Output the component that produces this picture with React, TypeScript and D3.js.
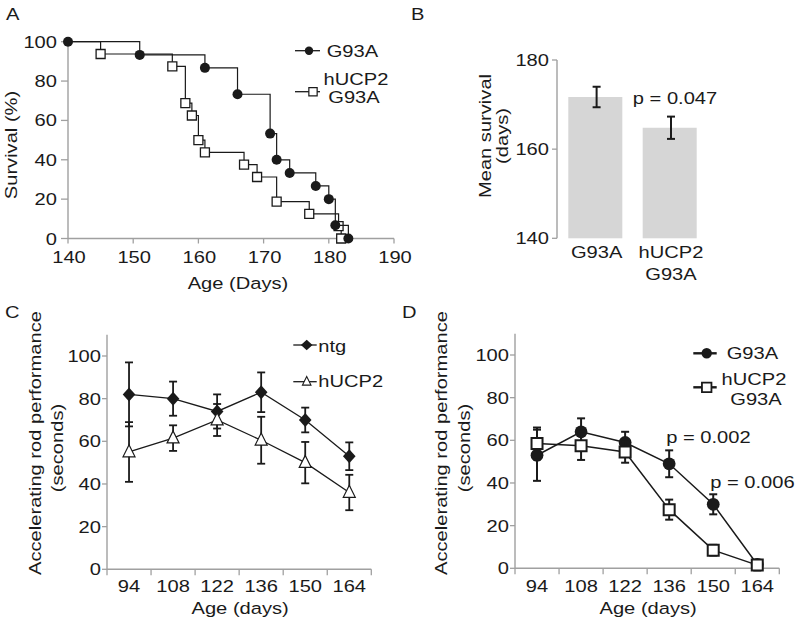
import React from 'react';
import * as d3 from 'd3';

// ---------- Data ----------
// Panel A: Kaplan-Meier survival (event times in days, survival %)
const kmG93ATimes = [151, 161, 166, 171, 172, 174, 178, 180, 181, 183];
const kmG93ASurv = [93.3, 86.7, 73.3, 53.3, 40, 33.3, 26.7, 20, 6.7, 0];
const kmHucpTimes = [145, 156, 158, 159, 160, 161, 167, 169, 172, 177, 181.5, 181.9];
const kmHucpSurv = [93.75, 87.5, 68.75, 62.5, 50, 43.75, 37.5, 31.25, 18.75, 12.5, 6.25, 0];
const kmStart = [140, 100];
const kmXTicks = [140, 150, 160, 170, 180, 190];
const kmYTicks = [0, 20, 40, 60, 80, 100];

// Panel B: mean survival
const survCatLines = [['G93A'], ['hUCP2', 'G93A']];
const survMean = [171.7, 164.8];
const survErr = [2.3, 2.5];
const survTicks = [140, 160, 180];

// Panel C / D: accelerating rod
const ageCats = ['94', '108', '122', '136', '150', '164'];
const rodTicks = [0, 20, 40, 60, 80, 100];
const ntgMean = [82, 80, 74, 83, 70, 53];
const ntgErr = [15, 8, 8, 9.3, 5.8, 6.5];
const hucpMean = [55, 61.5, 70, 60.5, 50, 36];
const hucpErr = [14, 6, 7.5, 11, 9.7, 8.3];
const g93aRod = [53, 64, 59, 49, 30, 1.8];
const g93aRodErr = [12, 6.3, 5, 6.3, 4.7, 1.5];
const hucpG93aRod = [58.5, 57.5, 54.5, 27.5, 8.5, 1.5];
const hucpG93aRodErr = [7.5, 6.7, 5, 4.7, 2.5, 2.5];
const pLabels = [{ cat: '136', text: 'p = 0.002' }, { cat: '150', text: 'p = 0.006' }];

// ---------- Style ----------
const FONT = '"Liberation Sans", Arial, Helvetica, sans-serif';
const SX = 1.22;
const FS = 16.5;
const AXIS = '#a0a0a0';
const INK = '#1a1a1a';

function Txt({ x, y, anchor = 'start', rot = 0, size = FS, children }: any) {
  return (
    <text
      transform={`translate(${x},${y})${rot ? ` rotate(${rot})` : ''} scale(${SX},1)`}
      textAnchor={anchor}
      fontSize={size}
      fontFamily={FONT}
      fill={INK}
    >
      {children}
    </text>
  );
}

const sq = (cx: number, cy: number, s: number) => `M${cx - s / 2},${cy - s / 2}h${s}v${s}h${-s}Z`;
const diamond = (cx: number, cy: number, w: number, h: number) =>
  `M${cx},${cy - h}L${cx + w},${cy}L${cx},${cy + h}L${cx - w},${cy}Z`;
const tri = (cx: number, cy: number, w: number, h: number) =>
  `M${cx},${cy - h * 0.6}L${cx + w / 2},${cy + h * 0.4}L${cx - w / 2},${cy + h * 0.4}Z`;

function PanelA() {
  const x = d3.scaleLinear().domain([140, 190]).range([68, 394]);
  const y = d3.scaleLinear().domain([0, 100]).range([238.5, 41.7]);
  const step = d3
    .line<number[]>()
    .x((d) => x(d[0]))
    .y((d) => y(d[1]))
    .curve(d3.curveStepAfter);
  const g = [kmStart, ...kmG93ATimes.map((t, i) => [t, kmG93ASurv[i]])];
  const h = [kmStart, ...kmHucpTimes.map((t, i) => [t, kmHucpSurv[i]])];
  return (
    <g>
      <Txt x={6} y={20}>A</Txt>
      <line x1={x(140)} x2={x(140)} y1={y(0)} y2={y(100)} stroke={AXIS} strokeWidth={1.4} />
      <line x1={x(140)} x2={x(190)} y1={y(0)} y2={y(0)} stroke={AXIS} strokeWidth={1.4} />
      {kmYTicks.map((t) => (
        <g key={'y' + t}>
          <line x1={x(140) - 7} x2={x(140)} y1={y(t)} y2={y(t)} stroke={AXIS} strokeWidth={1.3} />
          <Txt x={57} y={y(t) + 6} anchor="end">{t}</Txt>
        </g>
      ))}
      {kmXTicks.map((t) => (
        <g key={'x' + t}>
          <line x1={x(t)} x2={x(t)} y1={y(0)} y2={y(0) + 5} stroke={AXIS} strokeWidth={1.3} />
          <Txt x={x(t) + 1} y={263.3} anchor="middle">{t}</Txt>
        </g>
      ))}
      <Txt x={17} y={145} rot={-90} anchor="middle">Survival (%)</Txt>
      <Txt x={238} y={289} anchor="middle">Age (Days)</Txt>
      <path d={step(h) || ''} fill="none" stroke={INK} strokeWidth={1.2} />
      {h.slice(1).map((d, i) => (
        <path key={'hs' + i} d={sq(x(d[0]), y(d[1]), 9)} fill="#fff" stroke={INK} strokeWidth={1.3} />
      ))}
      <path d={step(g) || ''} fill="none" stroke={INK} strokeWidth={1.2} />
      {g.map((d, i) => (
        <circle key={'gc' + i} cx={x(d[0])} cy={y(d[1])} r={5} fill={INK} />
      ))}
      {/* legend */}
      <line x1={295} x2={320} y1={50.7} y2={50.7} stroke={INK} strokeWidth={1.3} />
      <circle cx={309} cy={50.7} r={4.2} fill={INK} />
      <Txt x={326.7} y={56.7}>G93A</Txt>
      <line x1={295} x2={320} y1={91.7} y2={91.7} stroke={INK} strokeWidth={1.3} />
      <path d={sq(313, 91.7, 8.3)} fill="#fff" stroke={INK} strokeWidth={1.2} />
      <Txt x={356} y={85} anchor="middle">hUCP2</Txt>
      <Txt x={354} y={103.3} anchor="middle">G93A</Txt>
    </g>
  );
}

function PanelB() {
  const y = d3.scaleLinear().domain([140, 180]).range([238.3, 60]);
  const x = d3
    .scaleBand<number>()
    .domain(survMean.map((_, i) => i))
    .range([557, 708])
    .paddingInner(0.274)
    .paddingOuter(0.152);
  const ax = 557;
  return (
    <g>
      <Txt x={411} y={20}>B</Txt>
      <line x1={ax} x2={ax} y1={y(140)} y2={y(180)} stroke={AXIS} strokeWidth={1.4} />
      {survTicks.map((t) => (
        <g key={t}>
          <line x1={ax - 5} x2={ax} y1={y(t)} y2={y(t)} stroke={AXIS} strokeWidth={1.3} />
          <Txt x={549} y={y(t) + 6} anchor="end">{t}</Txt>
        </g>
      ))}
      {survMean.map((m, i) => {
        const bx = x(i) as number;
        const cx = bx + x.bandwidth() / 2 + 1.3;
        return (
          <g key={i}>
            <rect x={bx} y={y(m)} width={x.bandwidth()} height={y(140) - y(m)} fill="#d6d6d6" />
            <line x1={cx} x2={cx} y1={y(m + survErr[i])} y2={y(m - survErr[i])} stroke={INK} strokeWidth={2} />
            <line x1={cx - 4} x2={cx + 4} y1={y(m + survErr[i])} y2={y(m + survErr[i])} stroke={INK} strokeWidth={2} />
            <line x1={cx - 4} x2={cx + 4} y1={y(m - survErr[i])} y2={y(m - survErr[i])} stroke={INK} strokeWidth={2} />
            {survCatLines[i].map((l, j) => (
              <Txt key={j} x={cx} y={258.3 + j * 21.7} anchor="middle">{l}</Txt>
            ))}
          </g>
        );
      })}
      <Txt x={675} y={103.5} anchor="middle">p = 0.047</Txt>
      <Txt x={491} y={136} rot={-90} anchor="middle">Mean survival</Txt>
      <Txt x={507.5} y={136} rot={-90} anchor="middle">(days)</Txt>
    </g>
  );
}

function RodAxes({ x, y, x0, label, titleX1, titleX2 }: any) {
  const edges = [...ageCats.map((c) => x(c) as number), (x(ageCats[ageCats.length - 1]) as number) + x.bandwidth()];
  const y0 = y(0);
  return (
    <g>
      <line x1={x0} x2={x0} y1={y0} y2={y(110)} stroke={AXIS} strokeWidth={1.4} />
      <line x1={x0} x2={edges[edges.length - 1]} y1={y0} y2={y0} stroke={AXIS} strokeWidth={1.4} />
      {rodTicks.map((t) => (
        <g key={'t' + t}>
          <line x1={x0 - 5} x2={x0} y1={y(t)} y2={y(t)} stroke={AXIS} strokeWidth={1.3} />
          <Txt x={x0 - 6} y={y(t) + 6} anchor="end">{t}</Txt>
        </g>
      ))}
      {edges.map((e, i) => (
        <line key={'e' + i} x1={e} x2={e} y1={y0} y2={y0 + 6} stroke={AXIS} strokeWidth={1.3} />
      ))}
      {ageCats.map((c) => (
        <Txt key={c} x={(x(c) as number) + x.bandwidth() / 2} y={591.7} anchor="middle">{c}</Txt>
      ))}
      <Txt x={(x0 + edges[edges.length - 1]) / 2 + 1} y={613.5} anchor="middle">Age  (days)</Txt>
      <Txt x={titleX1} y={443} rot={-90} anchor="middle">Accelerating rod performance</Txt>
      <Txt x={titleX2} y={448} rot={-90} anchor="middle">(seconds)</Txt>
      <Txt x={label.x} y={318}>{label.t}</Txt>
    </g>
  );
}

function ErrBars({ x, y, mean, err, sw = 1.8 }: any) {
  return (
    <g>
      {mean.map((m: number, i: number) => {
        const cx = (x(ageCats[i]) as number) + x.bandwidth() / 2;
        const t = y(m + err[i]);
        const b = y(m - err[i]);
        return (
          <g key={i}>
            <line x1={cx} x2={cx} y1={t} y2={b} stroke={INK} strokeWidth={sw} />
            <line x1={cx - 4} x2={cx + 4} y1={t} y2={t} stroke={INK} strokeWidth={sw} />
            <line x1={cx - 4} x2={cx + 4} y1={b} y2={b} stroke={INK} strokeWidth={sw} />
          </g>
        );
      })}
    </g>
  );
}

function PanelC() {
  const x = d3.scaleBand<string>().domain(ageCats).range([107, 371.3]).padding(0);
  const y = d3.scaleLinear().domain([0, 100]).range([569.3, 356]);
  const cx = (c: string) => (x(c) as number) + x.bandwidth() / 2;
  const line = d3
    .line<number>()
    .x((_, i) => cx(ageCats[i]))
    .y((d) => y(d));
  return (
    <g>
      <RodAxes x={x} y={y} x0={107} label={{ x: 5, t: 'C' }} titleX1={41} titleX2={63} />
      <path d={line(ntgMean) || ''} fill="none" stroke={INK} strokeWidth={1.3} />
      <ErrBars x={x} y={y} mean={ntgMean} err={ntgErr} />
      {ntgMean.map((m, i) => (
        <path key={'d' + i} d={diamond(cx(ageCats[i]), y(m), 6.3, 7)} fill={INK} />
      ))}
      <path d={line(hucpMean) || ''} fill="none" stroke={INK} strokeWidth={1.3} />
      <ErrBars x={x} y={y} mean={hucpMean} err={hucpErr} />
      {hucpMean.map((m, i) => (
        <path key={'t' + i} d={tri(cx(ageCats[i]), y(m), 12, 12)} fill="#fff" stroke={INK} strokeWidth={1.2} />
      ))}
      {/* legend */}
      <line x1={293.3} x2={316.7} y1={345} y2={345} stroke={INK} strokeWidth={1.3} />
      <path d={diamond(306.7, 345, 5.8, 5.3)} fill={INK} />
      <Txt x={318.3} y={351.7}>ntg</Txt>
      <line x1={293.3} x2={316.7} y1={381.7} y2={381.7} stroke={INK} strokeWidth={1.3} />
      <path d={tri(306.7, 381.7, 8.5, 8.5)} fill="#fff" stroke={INK} strokeWidth={1.1} />
      <Txt x={318.3} y={386.7}>hUCP2</Txt>
    </g>
  );
}

function PanelD() {
  const x = d3.scaleBand<string>().domain(ageCats).range([515, 779.3]).padding(0);
  const y = d3.scaleLinear().domain([0, 100]).range([568.3, 355]);
  const cx = (c: string) => (x(c) as number) + x.bandwidth() / 2;
  const line = d3
    .line<number>()
    .x((_, i) => cx(ageCats[i]))
    .y((d) => y(d));
  const pY = [443, 488];
  return (
    <g>
      <RodAxes x={x} y={y} x0={515} label={{ x: 402, t: 'D' }} titleX1={447} titleX2={469.5} />
      <path d={line(g93aRod) || ''} fill="none" stroke={INK} strokeWidth={1.5} />
      <ErrBars x={x} y={y} mean={g93aRod} err={g93aRodErr} sw={2} />
      {g93aRod.map((m, i) => (
        <circle key={'c' + i} cx={cx(ageCats[i])} cy={y(m)} r={6.4} fill={INK} />
      ))}
      <path d={line(hucpG93aRod) || ''} fill="none" stroke={INK} strokeWidth={1.5} />
      <ErrBars x={x} y={y} mean={hucpG93aRod} err={hucpG93aRodErr} sw={2} />
      {hucpG93aRod.map((m, i) => (
        <path key={'s' + i} d={sq(cx(ageCats[i]), y(m), 11)} fill="#fff" stroke={INK} strokeWidth={2} />
      ))}
      {pLabels.map((p, i) => (
        <Txt key={p.text} x={cx(p.cat) - 3} y={pY[i]}>{p.text}</Txt>
      ))}
      {/* legend */}
      <line x1={693.3} x2={716.7} y1={353.3} y2={353.3} stroke={INK} strokeWidth={2.4} />
      <circle cx={706.7} cy={353.3} r={5.2} fill={INK} />
      <Txt x={726.7} y={359.3}>G93A</Txt>
      <line x1={693.3} x2={716.7} y1={387.3} y2={387.3} stroke={INK} strokeWidth={2.4} />
      <path d={sq(706.7, 387.3, 9.5)} fill="#fff" stroke={INK} strokeWidth={1.8} />
      <Txt x={754} y={385} anchor="middle">hUCP2</Txt>
      <Txt x={756} y={405} anchor="middle">G93A</Txt>
    </g>
  );
}

export default function App() {
  return (
    <svg
      width={800}
      height={626}
      viewBox="0 0 800 626"
      style={{ position: 'absolute', left: 0, top: 0, background: '#fff' }}
    >
      <rect width={800} height={626} fill="#fff" />
      <PanelA />
      <PanelB />
      <PanelC />
      <PanelD />
    </svg>
  );
}
